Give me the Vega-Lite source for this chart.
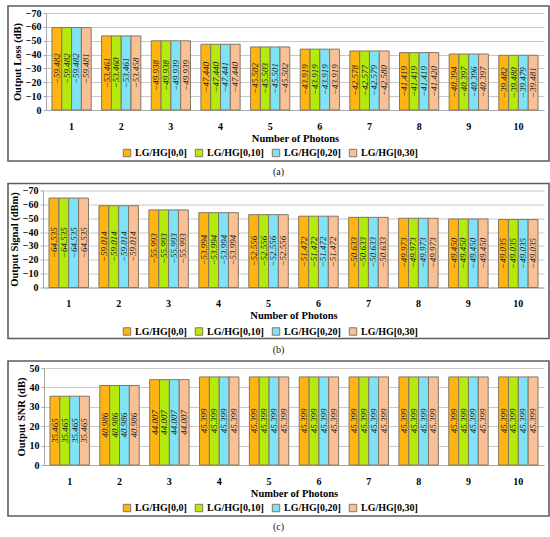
{
  "$schema": "https://vega.github.io/schema/vega-lite/v6.json",
  "padding": {"left": 7, "top": 5, "right": 0, "bottom": 4},
  "background": "white",
  "datasets": {
    "loss": [
      {"n": 1, "g": "LG/HG[0,0]", "v": -59.482}, {"n": 1, "g": "LG/HG[0,10]", "v": -59.482}, {"n": 1, "g": "LG/HG[0,20]", "v": -59.482}, {"n": 1, "g": "LG/HG[0,30]", "v": -59.481},
      {"n": 2, "g": "LG/HG[0,0]", "v": -53.461}, {"n": 2, "g": "LG/HG[0,10]", "v": -53.460}, {"n": 2, "g": "LG/HG[0,20]", "v": -53.461}, {"n": 2, "g": "LG/HG[0,30]", "v": -53.458},
      {"n": 3, "g": "LG/HG[0,0]", "v": -49.938}, {"n": 3, "g": "LG/HG[0,10]", "v": -49.938}, {"n": 3, "g": "LG/HG[0,20]", "v": -49.939}, {"n": 3, "g": "LG/HG[0,30]", "v": -49.939},
      {"n": 4, "g": "LG/HG[0,0]", "v": -47.440}, {"n": 4, "g": "LG/HG[0,10]", "v": -47.440}, {"n": 4, "g": "LG/HG[0,20]", "v": -47.441}, {"n": 4, "g": "LG/HG[0,30]", "v": -47.440},
      {"n": 5, "g": "LG/HG[0,0]", "v": -45.502}, {"n": 5, "g": "LG/HG[0,10]", "v": -45.503}, {"n": 5, "g": "LG/HG[0,20]", "v": -45.501}, {"n": 5, "g": "LG/HG[0,30]", "v": -45.502},
      {"n": 6, "g": "LG/HG[0,0]", "v": -43.919}, {"n": 6, "g": "LG/HG[0,10]", "v": -43.919}, {"n": 6, "g": "LG/HG[0,20]", "v": -43.919}, {"n": 6, "g": "LG/HG[0,30]", "v": -43.919},
      {"n": 7, "g": "LG/HG[0,0]", "v": -42.578}, {"n": 7, "g": "LG/HG[0,10]", "v": -42.577}, {"n": 7, "g": "LG/HG[0,20]", "v": -42.579}, {"n": 7, "g": "LG/HG[0,30]", "v": -42.580},
      {"n": 8, "g": "LG/HG[0,0]", "v": -41.419}, {"n": 8, "g": "LG/HG[0,10]", "v": -41.419}, {"n": 8, "g": "LG/HG[0,20]", "v": -41.419}, {"n": 8, "g": "LG/HG[0,30]", "v": -41.420},
      {"n": 9, "g": "LG/HG[0,0]", "v": -40.394}, {"n": 9, "g": "LG/HG[0,10]", "v": -40.397}, {"n": 9, "g": "LG/HG[0,20]", "v": -40.396}, {"n": 9, "g": "LG/HG[0,30]", "v": -40.397},
      {"n": 10, "g": "LG/HG[0,0]", "v": -39.482}, {"n": 10, "g": "LG/HG[0,10]", "v": -39.480}, {"n": 10, "g": "LG/HG[0,20]", "v": -39.479}, {"n": 10, "g": "LG/HG[0,30]", "v": -39.481}
    ],
    "signal": [
      {"n": 1, "g": "LG/HG[0,0]", "v": -64.535}, {"n": 1, "g": "LG/HG[0,10]", "v": -64.535}, {"n": 1, "g": "LG/HG[0,20]", "v": -64.535}, {"n": 1, "g": "LG/HG[0,30]", "v": -64.535},
      {"n": 2, "g": "LG/HG[0,0]", "v": -59.014}, {"n": 2, "g": "LG/HG[0,10]", "v": -59.014}, {"n": 2, "g": "LG/HG[0,20]", "v": -59.014}, {"n": 2, "g": "LG/HG[0,30]", "v": -59.014},
      {"n": 3, "g": "LG/HG[0,0]", "v": -55.993}, {"n": 3, "g": "LG/HG[0,10]", "v": -55.993}, {"n": 3, "g": "LG/HG[0,20]", "v": -55.993}, {"n": 3, "g": "LG/HG[0,30]", "v": -55.993},
      {"n": 4, "g": "LG/HG[0,0]", "v": -53.994}, {"n": 4, "g": "LG/HG[0,10]", "v": -53.994}, {"n": 4, "g": "LG/HG[0,20]", "v": -53.994}, {"n": 4, "g": "LG/HG[0,30]", "v": -53.994},
      {"n": 5, "g": "LG/HG[0,0]", "v": -52.556}, {"n": 5, "g": "LG/HG[0,10]", "v": -52.556}, {"n": 5, "g": "LG/HG[0,20]", "v": -52.556}, {"n": 5, "g": "LG/HG[0,30]", "v": -52.556},
      {"n": 6, "g": "LG/HG[0,0]", "v": -51.472}, {"n": 6, "g": "LG/HG[0,10]", "v": -51.472}, {"n": 6, "g": "LG/HG[0,20]", "v": -51.472}, {"n": 6, "g": "LG/HG[0,30]", "v": -51.472},
      {"n": 7, "g": "LG/HG[0,0]", "v": -50.633}, {"n": 7, "g": "LG/HG[0,10]", "v": -50.633}, {"n": 7, "g": "LG/HG[0,20]", "v": -50.633}, {"n": 7, "g": "LG/HG[0,30]", "v": -50.633},
      {"n": 8, "g": "LG/HG[0,0]", "v": -49.973}, {"n": 8, "g": "LG/HG[0,10]", "v": -49.973}, {"n": 8, "g": "LG/HG[0,20]", "v": -49.973}, {"n": 8, "g": "LG/HG[0,30]", "v": -49.973},
      {"n": 9, "g": "LG/HG[0,0]", "v": -49.450}, {"n": 9, "g": "LG/HG[0,10]", "v": -49.450}, {"n": 9, "g": "LG/HG[0,20]", "v": -49.450}, {"n": 9, "g": "LG/HG[0,30]", "v": -49.450},
      {"n": 10, "g": "LG/HG[0,0]", "v": -49.035}, {"n": 10, "g": "LG/HG[0,10]", "v": -49.035}, {"n": 10, "g": "LG/HG[0,20]", "v": -49.035}, {"n": 10, "g": "LG/HG[0,30]", "v": -49.035}
    ],
    "snr": [
      {"n": 1, "g": "LG/HG[0,0]", "v": 35.465}, {"n": 1, "g": "LG/HG[0,10]", "v": 35.465}, {"n": 1, "g": "LG/HG[0,20]", "v": 35.465}, {"n": 1, "g": "LG/HG[0,30]", "v": 35.465},
      {"n": 2, "g": "LG/HG[0,0]", "v": 40.986}, {"n": 2, "g": "LG/HG[0,10]", "v": 40.986}, {"n": 2, "g": "LG/HG[0,20]", "v": 40.986}, {"n": 2, "g": "LG/HG[0,30]", "v": 40.986},
      {"n": 3, "g": "LG/HG[0,0]", "v": 44.007}, {"n": 3, "g": "LG/HG[0,10]", "v": 44.007}, {"n": 3, "g": "LG/HG[0,20]", "v": 44.007}, {"n": 3, "g": "LG/HG[0,30]", "v": 44.007},
      {"n": 4, "g": "LG/HG[0,0]", "v": 45.399}, {"n": 4, "g": "LG/HG[0,10]", "v": 45.399}, {"n": 4, "g": "LG/HG[0,20]", "v": 45.399}, {"n": 4, "g": "LG/HG[0,30]", "v": 45.399},
      {"n": 5, "g": "LG/HG[0,0]", "v": 45.399}, {"n": 5, "g": "LG/HG[0,10]", "v": 45.399}, {"n": 5, "g": "LG/HG[0,20]", "v": 45.399}, {"n": 5, "g": "LG/HG[0,30]", "v": 45.399},
      {"n": 6, "g": "LG/HG[0,0]", "v": 45.399}, {"n": 6, "g": "LG/HG[0,10]", "v": 45.399}, {"n": 6, "g": "LG/HG[0,20]", "v": 45.399}, {"n": 6, "g": "LG/HG[0,30]", "v": 45.399},
      {"n": 7, "g": "LG/HG[0,0]", "v": 45.399}, {"n": 7, "g": "LG/HG[0,10]", "v": 45.399}, {"n": 7, "g": "LG/HG[0,20]", "v": 45.399}, {"n": 7, "g": "LG/HG[0,30]", "v": 45.399},
      {"n": 8, "g": "LG/HG[0,0]", "v": 45.399}, {"n": 8, "g": "LG/HG[0,10]", "v": 45.399}, {"n": 8, "g": "LG/HG[0,20]", "v": 45.399}, {"n": 8, "g": "LG/HG[0,30]", "v": 45.399},
      {"n": 9, "g": "LG/HG[0,0]", "v": 45.399}, {"n": 9, "g": "LG/HG[0,10]", "v": 45.399}, {"n": 9, "g": "LG/HG[0,20]", "v": 45.399}, {"n": 9, "g": "LG/HG[0,30]", "v": 45.399},
      {"n": 10, "g": "LG/HG[0,0]", "v": 45.399}, {"n": 10, "g": "LG/HG[0,10]", "v": 45.399}, {"n": 10, "g": "LG/HG[0,20]", "v": 45.399}, {"n": 10, "g": "LG/HG[0,30]", "v": 45.399}
    ]
  },
  "spacing": 22.5,
  "bounds": "flush",
  "resolve": {
    "scale": {"x": "independent", "y": "independent", "xOffset": "independent", "color": "independent"},
    "axis": {"x": "independent", "y": "independent"},
    "legend": {"color": "independent"}
  },
  "vconcat": [
    {
      "width": 541,
      "height": 155,
      "title": {"text": "(a)", "orient": "bottom", "offset": 6},
      "data": {"name": "loss"},
      "resolve": {"scale": {"y": "independent"}},
      "encoding": {
        "x": {"field": "n", "type": "ordinal", "scale": {"range": [38, 536], "paddingInner": 0.21, "paddingOuter": 0.12},
              "axis": {"title": "Number of Photons", "offset": -51, "labelAngle": 0, "labelPadding": 11, "titlePadding": 2, "ticks": false}},
        "xOffset": {"field": "g", "type": "nominal", "scale": {"domain": ["LG/HG[0,0]", "LG/HG[0,10]", "LG/HG[0,20]", "LG/HG[0,30]"]}}
      },
      "layer": [
        {
          "mark": {"type": "bar", "stroke": "#857565", "strokeWidth": 1},
          "encoding": {
            "y": {"field": "v", "type": "quantitative", "scale": {"domain": [0, -70], "range": [104, 7], "nice": false},
                  "axis": {"title": "Output Loss (dB)", "offset": -38, "values": [0, -10, -20, -30, -40, -50, -60, -70], "tickSize": 3, "labelPadding": 2, "titlePadding": 3, "labelOverlap": false}},
            "color": {"field": "g", "type": "nominal",
                      "scale": {"domain": ["LG/HG[0,0]", "LG/HG[0,10]", "LG/HG[0,20]", "LG/HG[0,30]"], "range": ["#FFB511", "#B4EA0C", "#7FE3F5", "#F9C095"]},
                      "legend": {"orient": "none", "legendX": 114, "legendY": 142, "direction": "horizontal", "title": null}}
          }
        },
        {
          "mark": {"type": "text", "angle": 270, "fontStyle": "italic", "fontSize": 9, "font": "Liberation Serif", "color": "#1a1a1a"},
          "encoding": {
            "y": {"field": "v", "type": "quantitative", "scale": {"domain": [0, -140], "range": [104, 7], "nice": false}, "axis": null},
            "text": {"field": "v", "type": "quantitative", "format": ".3f"}
          }
        }
      ]
    },
    {
      "width": 541,
      "height": 155,
      "title": {"text": "(b)", "orient": "bottom", "offset": 6},
      "data": {"name": "signal"},
      "resolve": {"scale": {"y": "independent"}},
      "encoding": {
        "x": {"field": "n", "type": "ordinal", "scale": {"range": [35, 536], "paddingInner": 0.21, "paddingOuter": 0.12},
              "axis": {"title": "Number of Photons", "offset": -51, "labelAngle": 0, "labelPadding": 11, "titlePadding": 2, "ticks": false}},
        "xOffset": {"field": "g", "type": "nominal", "scale": {"domain": ["LG/HG[0,0]", "LG/HG[0,10]", "LG/HG[0,20]", "LG/HG[0,30]"]}}
      },
      "layer": [
        {
          "mark": {"type": "bar", "stroke": "#857565", "strokeWidth": 1},
          "encoding": {
            "y": {"field": "v", "type": "quantitative", "scale": {"domain": [0, -70], "range": [104, 7], "nice": false},
                  "axis": {"title": "Output Signal (dBm)", "offset": -35, "values": [0, -10, -20, -30, -40, -50, -60, -70], "tickSize": 3, "labelPadding": 2, "titlePadding": 3, "labelOverlap": false}},
            "color": {"field": "g", "type": "nominal",
                      "scale": {"domain": ["LG/HG[0,0]", "LG/HG[0,10]", "LG/HG[0,20]", "LG/HG[0,30]"], "range": ["#FFB511", "#B4EA0C", "#7FE3F5", "#F9C095"]},
                      "legend": {"orient": "none", "legendX": 114, "legendY": 143, "direction": "horizontal", "title": null}}
          }
        },
        {
          "mark": {"type": "text", "angle": 270, "fontStyle": "italic", "fontSize": 9, "font": "Liberation Serif", "color": "#1a1a1a"},
          "encoding": {
            "y": {"field": "v", "type": "quantitative", "scale": {"domain": [0, -140], "range": [104, 7], "nice": false}, "axis": null},
            "text": {"field": "v", "type": "quantitative", "format": ".3f"}
          }
        }
      ]
    },
    {
      "width": 541,
      "height": 155,
      "title": {"text": "(c)", "orient": "bottom", "offset": 6},
      "data": {"name": "snr"},
      "resolve": {"scale": {"y": "independent"}},
      "encoding": {
        "x": {"field": "n", "type": "ordinal", "scale": {"range": [36, 536], "paddingInner": 0.21, "paddingOuter": 0.12},
              "axis": {"title": "Number of Photons", "offset": -51, "labelAngle": 0, "labelPadding": 11, "titlePadding": 2, "ticks": false}},
        "xOffset": {"field": "g", "type": "nominal", "scale": {"domain": ["LG/HG[0,0]", "LG/HG[0,10]", "LG/HG[0,20]", "LG/HG[0,30]"]}}
      },
      "layer": [
        {
          "mark": {"type": "bar", "stroke": "#857565", "strokeWidth": 1},
          "encoding": {
            "y": {"field": "v", "type": "quantitative", "scale": {"domain": [0, 50], "range": [104, 7], "nice": false},
                  "axis": {"title": "Output SNR (dB)", "offset": -36, "values": [0, 10, 20, 30, 40, 50], "tickSize": 3, "labelPadding": 2, "titlePadding": 3, "labelOverlap": false}},
            "color": {"field": "g", "type": "nominal",
                      "scale": {"domain": ["LG/HG[0,0]", "LG/HG[0,10]", "LG/HG[0,20]", "LG/HG[0,30]"], "range": ["#FFB511", "#B4EA0C", "#7FE3F5", "#F9C095"]},
                      "legend": {"orient": "none", "legendX": 114, "legendY": 142, "direction": "horizontal", "title": null}}
          }
        },
        {
          "mark": {"type": "text", "angle": 270, "fontStyle": "italic", "fontSize": 9, "font": "Liberation Serif", "color": "#1a1a1a"},
          "encoding": {
            "y": {"field": "v", "type": "quantitative", "scale": {"domain": [0, 100], "range": [104, 7], "nice": false}, "axis": null},
            "text": {"field": "v", "type": "quantitative", "format": ".3f"}
          }
        }
      ]
    }
  ],
  "config": {
    "view": {"stroke": "#5e5e5e", "strokeWidth": 1.6},
    "font": "Liberation Serif",
    "title": {"font": "Liberation Serif", "fontSize": 10, "fontWeight": "normal", "color": "#111", "anchor": "middle"},
    "axis": {
      "labelFont": "Liberation Serif", "titleFont": "Liberation Serif",
      "labelFontSize": 10, "titleFontSize": 10.5,
      "labelFontWeight": "bold", "titleFontWeight": "bold",
      "labelColor": "#000", "titleColor": "#000",
      "domainColor": "#a8a8a8", "tickColor": "#a8a8a8", "gridColor": "#c8c8c8"
    },
    "axisX": {"grid": false},
    "axisY": {"grid": true},
    "legend": {
      "symbolType": "square", "symbolSize": 55, "symbolStrokeColor": "#857565", "symbolStrokeWidth": 1,
      "labelFont": "Liberation Serif", "labelFontSize": 10, "labelFontWeight": "bold", "labelColor": "#000",
      "columnPadding": 6, "gridAlign": "none", "symbolOffset": 0, "labelOffset": 3
    }
  }
}
